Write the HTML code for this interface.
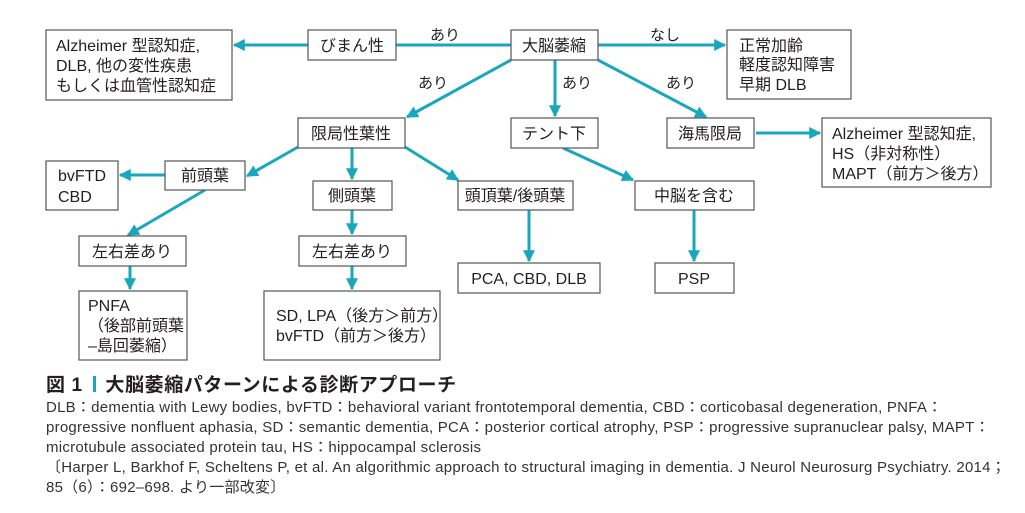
<!DOCTYPE html>
<html><head><meta charset="utf-8"><style>
html,body{margin:0;padding:0;background:#fff;}
body{width:1025px;height:513px;overflow:hidden;position:relative;font-family:"Liberation Sans","Noto Sans CJK JP",sans-serif;color:#231f20;}
svg{position:absolute;left:0;top:0;}
.cap{position:absolute;left:46px;font-size:15px;letter-spacing:0.25px;color:#333;white-space:nowrap}
</style></head><body>
<svg width="1025" height="513" xmlns="http://www.w3.org/2000/svg" font-family="Liberation Sans, Noto Sans CJK JP, sans-serif" font-size="16" fill="#231f20">
<defs><marker id="a" viewBox="0 0 10 10" refX="9" refY="5" markerWidth="4" markerHeight="4" orient="auto"><path d="M0,0L10,5L0,10z" fill="#19a7be"/></marker></defs>
<g stroke="#19a7be" stroke-width="3" fill="none">
<line x1="396" y1="45" x2="511" y2="45"/>
<line x1="308" y1="45" x2="234" y2="45" marker-end="url(#a)"/>
<line x1="598" y1="45" x2="725" y2="45" marker-end="url(#a)"/>
<line x1="511" y1="60" x2="407" y2="117" marker-end="url(#a)"/>
<line x1="555" y1="60" x2="555" y2="116" marker-end="url(#a)"/>
<line x1="598" y1="60" x2="706" y2="117" marker-end="url(#a)"/>
<line x1="756" y1="133" x2="820" y2="133" marker-end="url(#a)"/>
<line x1="298" y1="147" x2="247" y2="176" marker-end="url(#a)"/>
<line x1="352" y1="148" x2="352" y2="179" marker-end="url(#a)"/>
<line x1="405" y1="147" x2="458" y2="180" marker-end="url(#a)"/>
<line x1="165" y1="175" x2="120" y2="175" marker-end="url(#a)"/>
<line x1="205" y1="190" x2="128" y2="235" marker-end="url(#a)"/>
<line x1="130" y1="266" x2="130" y2="289" marker-end="url(#a)"/>
<line x1="352" y1="210" x2="352" y2="234" marker-end="url(#a)"/>
<line x1="352" y1="266" x2="352" y2="289" marker-end="url(#a)"/>
<line x1="529" y1="210" x2="529" y2="261" marker-end="url(#a)"/>
<line x1="563" y1="148" x2="633" y2="180" marker-end="url(#a)"/>
<line x1="694" y1="210" x2="694" y2="261" marker-end="url(#a)"/>
</g>
<g stroke="#555" stroke-width="1.2" fill="#fff">
<rect x="46" y="30" width="186" height="70"/>
<rect x="308" y="30" width="88" height="30"/>
<rect x="511" y="30" width="87" height="30"/>
<rect x="727" y="30" width="124" height="69"/>
<rect x="298" y="118" width="107" height="30"/>
<rect x="511" y="118" width="87" height="30"/>
<rect x="667" y="118" width="87" height="30"/>
<rect x="822" y="118" width="169" height="69"/>
<rect x="46" y="161" width="72" height="49"/>
<rect x="165" y="161" width="80" height="29"/>
<rect x="313" y="181" width="79" height="29"/>
<rect x="458" y="181" width="115" height="29"/>
<rect x="635" y="181" width="119" height="29"/>
<rect x="79" y="236" width="107" height="30"/>
<rect x="299" y="236" width="107" height="30"/>
<rect x="458" y="263" width="142" height="30"/>
<rect x="655" y="263" width="79" height="30"/>
<rect x="79" y="291" width="108" height="69"/>
<rect x="264" y="291" width="176" height="69"/>
</g>
<text x="56" y="51">Alzheimer 型認知症,</text>
<text x="56" y="71">DLB,  他の変性疾患</text>
<text x="56" y="91">もしくは血管性認知症</text>
<text x="352" y="51" text-anchor="middle">びまん性</text>
<text x="554" y="51" text-anchor="middle">大脳萎縮</text>
<text x="739" y="51">正常加齢</text>
<text x="739" y="70">軽度認知障害</text>
<text x="739" y="90">早期 DLB</text>
<text x="351" y="139" text-anchor="middle">限局性葉性</text>
<text x="554" y="139" text-anchor="middle">テント下</text>
<text x="710" y="139" text-anchor="middle">海馬限局</text>
<text x="832" y="139">Alzheimer 型認知症,</text>
<text x="832" y="159">HS（非対称性）</text>
<text x="832" y="179">MAPT（前方＞後方）</text>
<text x="58" y="181">bvFTD</text>
<text x="58" y="202">CBD</text>
<text x="205" y="181" text-anchor="middle">前頭葉</text>
<text x="352" y="201" text-anchor="middle">側頭葉</text>
<text x="515" y="201" text-anchor="middle">頭頂葉/後頭葉</text>
<text x="694" y="201" text-anchor="middle">中脳を含む</text>
<text x="132" y="257" text-anchor="middle">左右差あり</text>
<text x="352" y="257" text-anchor="middle">左右差あり</text>
<text x="529" y="284" text-anchor="middle">PCA, CBD, DLB</text>
<text x="694" y="284" text-anchor="middle">PSP</text>
<text x="88" y="311">PNFA</text>
<text x="88" y="331">（後部前頭葉</text>
<text x="88" y="351">‒島回萎縮）</text>
<text x="276" y="321">SD, LPA（後方＞前方）</text>
<text x="276" y="341">bvFTD（前方＞後方）</text>
<text x="430" y="40" font-size="15">あり</text>
<text x="650" y="40" font-size="15">なし</text>
<text x="418" y="88" font-size="15">あり</text>
<text x="562" y="88" font-size="15">あり</text>
<text x="666" y="88" font-size="15">あり</text>
</svg>
<div style="position:absolute;left:46px;top:370px;font-size:19px;letter-spacing:0.6px;font-weight:bold;color:#231f20;white-space:nowrap">図 1 <span style="display:inline-block;width:3px;height:16px;background:#19a7be;vertical-align:-1px;margin:0 4px"></span> 大脳萎縮パターンによる診断アプローチ</div>
<div class="cap" style="top:396px">DLB：dementia with Lewy bodies, bvFTD：behavioral variant frontotemporal dementia, CBD：corticobasal degeneration, PNFA：</div>
<div class="cap" style="top:416px">progressive nonfluent aphasia, SD：semantic dementia, PCA：posterior cortical atrophy, PSP：progressive supranuclear palsy, MAPT：</div>
<div class="cap" style="top:436px">microtubule associated protein tau, HS：hippocampal sclerosis</div>
<div class="cap" style="top:456px">〔Harper L, Barkhof F, Scheltens P, et al. An algorithmic approach to structural imaging in dementia. J Neurol Neurosurg Psychiatry. 2014；</div>
<div class="cap" style="top:476px">85（6）：692‒698. より一部改変〕</div>
</body></html>
